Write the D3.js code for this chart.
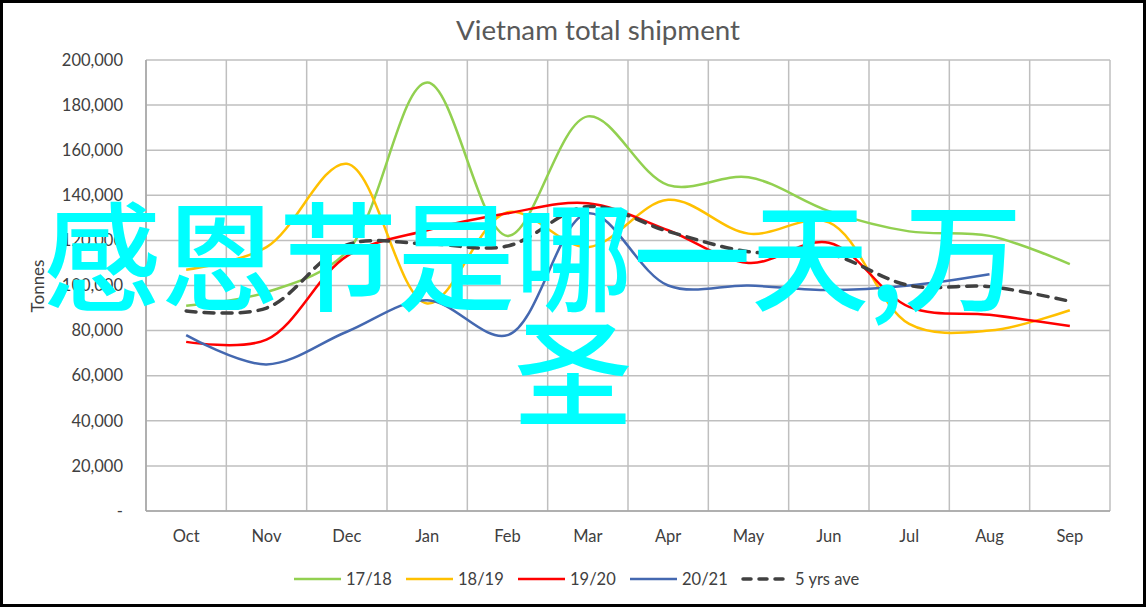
<!DOCTYPE html>
<html><head><meta charset="utf-8">
<script src="https://cdn.jsdelivr.net/npm/d3@7"></script>
<style>
html,body{margin:0;padding:0;background:#fff;}
svg{display:block;}
</style></head>
<body>
<svg id="chart" width="1146" height="607"></svg>
<script>
const months = ["Oct","Nov","Dec","Jan","Feb","Mar","Apr","May","Jun","Jul","Aug","Sep"];
const s1718 = [91000, 97000, 115000, 190000, 122000, 175000, 144500, 148000, 133000, 124000, 122000, 109500];
const s1819 = [107000, 117000, 154000, 92000, 132500, 117000, 138000, 123000, 128000, 83000, 80000, 89000];
const s1920 = [75000, 76000, 113000, 124500, 132000, 136500, 124500, 110000, 119000, 90500, 87000, 82000];
const s2021 = [78000, 65000, 79500, 93500, 78000, 132000, 100000, 100000, 98000, 100000, 105000];
const avg5 = [88700, 90000, 118000, 118500, 117500, 135000, 124000, 115000, 114000, 100000, 99500, 93000];
const yTicks = [0, 20000, 40000, 60000, 80000, 100000, 120000, 140000, 160000, 180000, 200000];
const seriesNames = ["17/18","18/19","19/20","20/21","5 yrs ave"];
const seriesColors = ["#92D050","#FFC000","#FF0000","#4468B0","#404040"];
const titleText = "Vietnam total shipment";
const yTitle = "Tonnes";
const overlayLine1 = "感恩节是哪一天,万";
const overlayLine2 = "圣";

const svg = d3.select("#chart");
const W = 1146, H = 607;
const m = {left:146, right:1110, top:60, bottom:511};

const x = d3.scaleBand().domain(months).range([m.left, m.right]).paddingInner(0).paddingOuter(0);
const y = d3.scaleLinear().domain([0,200000]).range([m.bottom, m.top]);
const cx = d => x(d) + x.bandwidth()/2;

// frame
svg.append("rect").attr("x",1.5).attr("y",1.5).attr("width",W-3).attr("height",H-3)
  .attr("fill","#fff").attr("stroke","#000").attr("stroke-width",3);

// title
svg.append("text").attr("x",598).attr("y",40).attr("text-anchor","middle")
  .attr("font-family","Lato, 'Open Sans', sans-serif").attr("font-size",27.5).attr("fill","#595959")
  .attr("textLength",284).attr("lengthAdjust","spacingAndGlyphs")
  .text(titleText);

// gridlines horizontal
const grid = svg.append("g");
grid.selectAll("line.h").data(yTicks).enter().append("line")
  .attr("x1",m.left).attr("x2",m.right).attr("y1",d=>y(d)).attr("y2",d=>y(d))
  .attr("stroke","#BFBFBF").attr("stroke-width",1.5);
// vertical gridlines at band boundaries
const bounds = months.map(d => x(d)).concat([m.right]);
grid.selectAll("line.v").data(bounds).enter().append("line")
  .attr("x1",d=>d).attr("x2",d=>d).attr("y1",m.top).attr("y2",m.bottom)
  .attr("stroke","#BFBFBF").attr("stroke-width",1.5);
// left axis line
svg.append("line").attr("x1",m.left).attr("x2",m.left).attr("y1",m.top).attr("y2",m.bottom)
  .attr("stroke","#A6A6A6").attr("stroke-width",1.5);
svg.append("line").attr("x1",m.left).attr("x2",m.right).attr("y1",m.bottom).attr("y2",m.bottom)
  .attr("stroke","#A6A6A6").attr("stroke-width",1.5);

// y axis labels
const yAxis = d3.axisLeft(y).tickValues(yTicks).tickSize(0).tickPadding(23)
  .tickFormat(d => d === 0 ? "-" : d3.format(",")(d));
const yg = svg.append("g").attr("transform",`translate(${m.left},0)`).call(yAxis);
yg.select(".domain").remove();
yg.selectAll("text").attr("font-family","Lato, 'Open Sans', sans-serif").attr("font-size",16.5).attr("fill","#404040");

// x axis labels
const xAxis = d3.axisBottom(x).tickSize(0).tickPadding(19);
const xg = svg.append("g").attr("transform",`translate(0,${m.bottom})`).call(xAxis);
xg.select(".domain").remove();
xg.selectAll("text").attr("font-family","Lato, 'Open Sans', sans-serif").attr("font-size",16.5).attr("fill","#404040");

// y title
svg.append("text").attr("transform","translate(44,286) rotate(-90)").attr("text-anchor","middle")
  .attr("font-family","Lato, 'Open Sans', sans-serif").attr("font-size",17).attr("fill","#404040")
  .text(yTitle);

// lines
const allSeries = [s1718, s1819, s1920, s2021, avg5];
const line = d3.line().x((d,i)=>cx(months[i])).y(d=>y(d)).curve(d3.curveCatmullRom.alpha(0.5));
const lg = svg.append("g");
allSeries.forEach((s,k) => {
  lg.append("path").datum(s).attr("d",line).attr("fill","none")
    .attr("stroke",seriesColors[k]).attr("stroke-width", k===4 ? 3.5 : 2.5)
    .attr("stroke-dasharray", k===4 ? "10,8" : null)
    .attr("stroke-linecap", k===4 ? "round" : "butt");
});

// legend
const legX = [294, 406, 518, 630, 743];
const leg = svg.append("g");
seriesNames.forEach((n,k) => {
  leg.append("line").attr("x1",legX[k]).attr("x2",legX[k]+47).attr("y1",579).attr("y2",579)
    .attr("stroke",seriesColors[k]).attr("stroke-width",k===4?3.5:2.5)
    .attr("stroke-dasharray",k===4?"8,8":null).attr("stroke-linecap",k===4?"round":"butt");
  leg.append("text").attr("x",legX[k]+52).attr("y",585).attr("font-family","Lato, 'Open Sans', sans-serif")
    .attr("font-size",16.5).attr("fill","#404040").text(n);
});

// overlay text
const ov = svg.append("g").attr("font-family","'Noto Sans CJK SC', sans-serif").attr("font-size",118)
  .attr("font-weight",500).attr("fill","#00FFFF");
ov.append("text").attr("x",43).attr("y",302).text(overlayLine1);
ov.append("text").attr("x",573).attr("y",418).attr("text-anchor","middle").text(overlayLine2);
</script>
</body></html>
